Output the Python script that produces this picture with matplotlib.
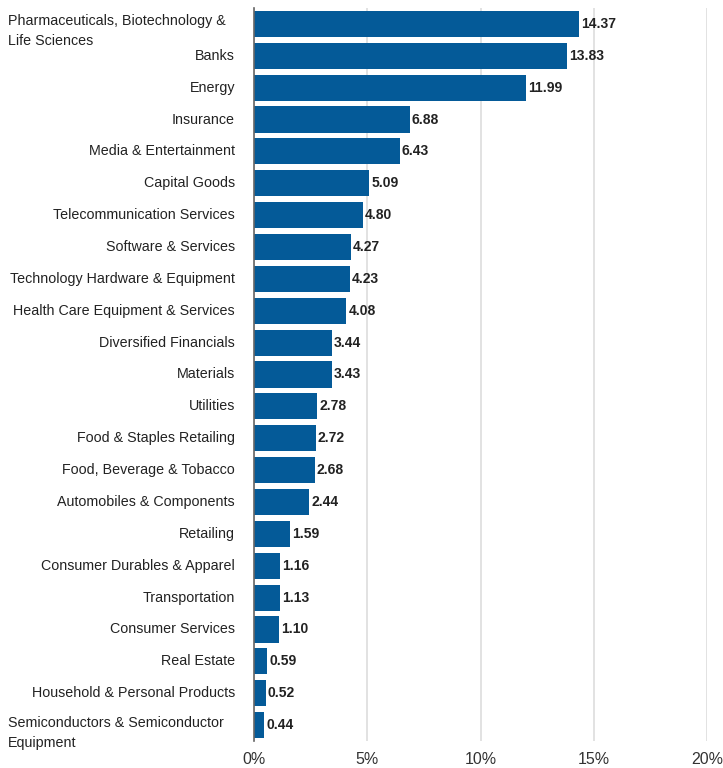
import matplotlib
matplotlib.use("Agg")
import matplotlib.pyplot as plt
from matplotlib import font_manager
import matplotlib.transforms as mtransforms

# sector weights, largest first
sectors = [
    "Pharmaceuticals, Biotechnology &\nLife Sciences",
    "Banks",
    "Energy",
    "Insurance",
    "Media & Entertainment",
    "Capital Goods",
    "Telecommunication Services",
    "Software & Services",
    "Technology Hardware & Equipment",
    "Health Care Equipment & Services",
    "Diversified Financials",
    "Materials",
    "Utilities",
    "Food & Staples Retailing",
    "Food, Beverage & Tobacco",
    "Automobiles & Components",
    "Retailing",
    "Consumer Durables & Apparel",
    "Transportation",
    "Consumer Services",
    "Real Estate",
    "Household & Personal Products",
    "Semiconductors & Semiconductor\nEquipment",
]
weights = [14.37, 13.83, 11.99, 6.88, 6.43, 5.09, 4.80, 4.27, 4.23, 4.08,
           3.44, 3.43, 2.78, 2.72, 2.68, 2.44, 1.59, 1.16, 1.13, 1.10,
           0.59, 0.52, 0.44]
xticks = [0, 5, 10, 15, 20]

names = {f.name for f in font_manager.fontManager.ttflist}
label_font = "Liberation Sans" if "Liberation Sans" in names else "DejaVu Sans"
value_font = "Liberation Sans Narrow" if "Liberation Sans Narrow" in names else label_font

BAR = "#045a98"

fig = plt.figure(figsize=(7.23, 7.68), dpi=100)
ax = fig.add_axes([254 / 723, 27 / 768, 453 / 723, 733 / 768])

y = list(range(len(sectors)))
ax.barh(y, weights, height=0.82, color=BAR, zorder=3)
ax.set_ylim(len(sectors) - 0.5, -0.5)
ax.set_xlim(0, 20)

ax.set_xticks(xticks)
ax.set_xticklabels([f"{t}%" for t in xticks], fontsize=11.5, family=label_font, color="#333333")
ax.tick_params(axis="x", length=0, pad=8)
ax.set_yticks([])
ax.xaxis.grid(True, color="#dddddd", linewidth=1.2, zorder=0)

for s in ["top", "right", "bottom"]:
    ax.spines[s].set_visible(False)
ax.spines["left"].set_color("#666666")
ax.spines["left"].set_linewidth(1.2)
ax.spines["left"].set_zorder(4)

# category labels: short ones right-aligned next to the axis,
# wrapped ones start at the left edge of the figure
trans = mtransforms.blended_transform_factory(fig.transFigure, ax.transData)
for yi, name in zip(y, sectors):
    if "\n" in name:
        ax.text(8 / 723, yi - 0.3, name, transform=trans, ha="left", va="top",
                fontsize=10.3, family=label_font, color="#222222", linespacing=1.55)
    else:
        ax.text(235 / 723, yi, name, transform=trans, ha="right", va="center",
                fontsize=10.3, family=label_font, color="#222222")

# value labels just past the end of each bar
for yi, w in zip(y, weights):
    ax.annotate(f"{w:.2f}", (w, yi), xytext=(1.5, 0), textcoords="offset points",
                ha="left", va="center", fontsize=10, family=value_font,
                fontweight="bold", color="#222222", zorder=5)

fig.savefig("out.png", dpi=100)
